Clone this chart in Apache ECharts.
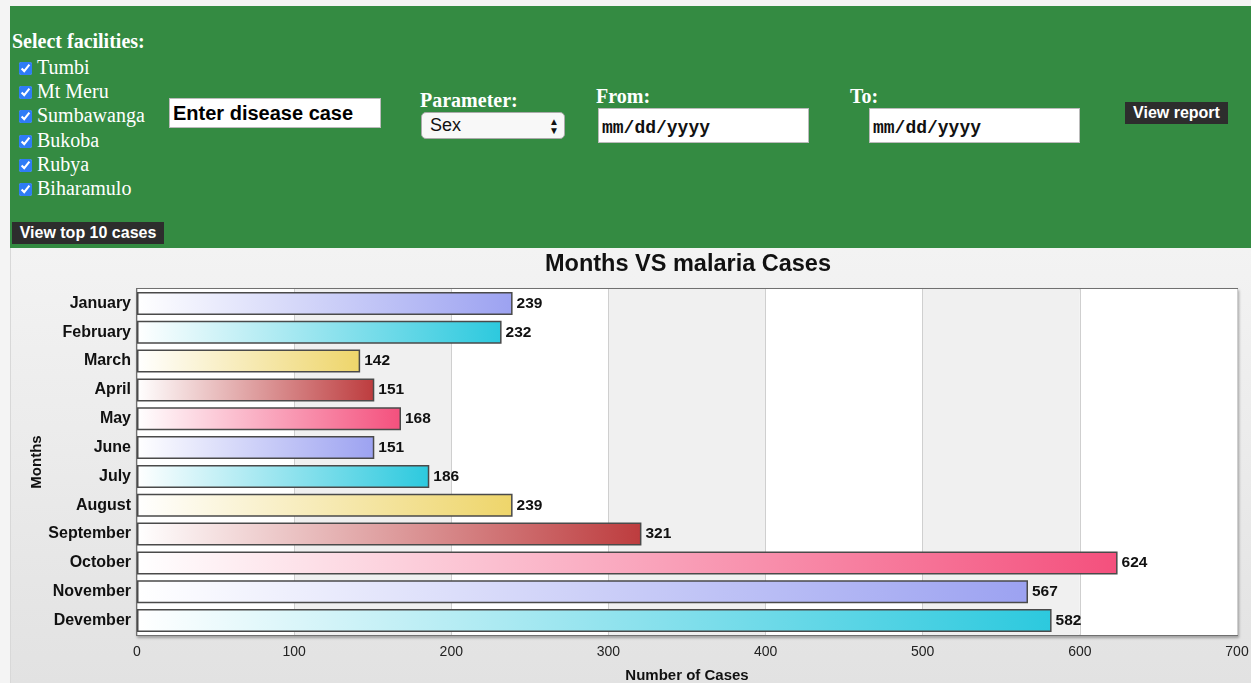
<!DOCTYPE html>
<html>
<head>
<meta charset="utf-8">
<script src="https://cdn.jsdelivr.net/npm/echarts@6/dist/echarts.min.js"></script>
<style>
  body { margin: 0; background: #f4f4f4; width: 1251px; height: 683px; overflow: hidden; position: relative; }
  .header { position: absolute; left: 10px; top: 6px; width: 1241px; height: 242px; background: #348b42; }
  .abs { position: absolute; }
  .lbl { font-family: "Liberation Serif", "Times New Roman", serif; font-weight: bold; font-size: 20px; color: #fff; white-space: nowrap; }
  .fac { font-family: "Liberation Serif", "Times New Roman", serif; font-size: 20px; color: #fff; height: 24.2px; line-height: 24px; white-space: nowrap; }
  .fac input { margin: 0 5px 0 0; width: 13px; height: 13px; vertical-align: -1px; accent-color: #2f7cf6; }
  .btn { background: #2d2d2d; color: #fff; font-family: "Liberation Sans", Arial, sans-serif; font-weight: bold; font-size: 16px; text-align: center; line-height: 22px; height: 22px; }
  .box { background: #fff; border: 1px solid #bbb; box-sizing: border-box; }
  .date { font-family: "Liberation Mono", "Courier New", monospace; font-weight: bold; font-size: 18px; color: #111; line-height: 38px; padding-left: 3px; }
  #chart { position: absolute; left: 10px; top: 248px; width: 1241px; height: 435px; background: linear-gradient(#f3f3f3, #e2e2e2); border-left: 1px solid #d8d8d8; box-sizing: border-box; }
</style>
</head>
<body>
<div class="header">
  <div class="abs lbl" style="left:2px; top:24px;">Select facilities:</div>
  <div class="abs" style="left:9px; top:49px;">
    <div class="fac"><input type="checkbox" checked>Tumbi</div>
    <div class="fac"><input type="checkbox" checked>Mt Meru</div>
    <div class="fac"><input type="checkbox" checked>Sumbawanga</div>
    <div class="fac"><input type="checkbox" checked>Bukoba</div>
    <div class="fac"><input type="checkbox" checked>Rubya</div>
    <div class="fac"><input type="checkbox" checked>Biharamulo</div>
  </div>
  <div class="abs box" style="left:159px; top:92px; width:212px; height:30px; font-family:'Liberation Sans',Arial,sans-serif; font-weight:bold; font-size:20px; color:#000; line-height:28px; padding-left:3px;">Enter disease case</div>
  <div class="abs lbl" style="left:410px; top:83px;">Parameter:</div>
  <div class="abs" style="left:411px; top:106px; width:144px; height:27px; background:#f8f8f8; border:1px solid #aaa; border-radius:5px; box-sizing:border-box; font-family:'Liberation Sans',Arial,sans-serif; font-size:18px; color:#111; line-height:25px; padding-left:8px;">Sex<span style="position:absolute; right:5px; top:0; font-size:10px; line-height:9px; padding-top:4px;">&#9650;<br>&#9660;</span></div>
  <div class="abs lbl" style="left:586px; top:79px;">From:</div>
  <div class="abs box date" style="left:588px; top:102px; width:211px; height:35px;">mm/dd/yyyy</div>
  <div class="abs lbl" style="left:840px; top:79px;">To:</div>
  <div class="abs box date" style="left:859px; top:102px; width:211px; height:35px;">mm/dd/yyyy</div>
  <div class="abs btn" style="left:1115px; top:96px; width:103px;">View report</div>
  <div class="abs btn" style="left:2px; top:216px; width:152px;">View top 10 cases</div>
</div>
<div id="chart"></div>
<script>
  // chart data
  const months = ["January", "February", "March", "April", "May", "June", "July", "August", "September", "October", "November", "Devember"];
  const cases = [239, 232, 142, 151, 168, 151, 186, 239, 321, 624, 567, 582];
  const barColors = ["#9ca2f1", "#2cc9de", "#eed56a", "#bd3c3e", "#f4507d"];

  const chart = echarts.init(document.getElementById("chart"));

  const barData = cases.map((v, i) => ({
    value: v,
    itemStyle: {
      color: new echarts.graphic.LinearGradient(0, 0, 1, 0, [
        { offset: 0, color: "#ffffff" },
        { offset: 1, color: barColors[i % barColors.length] },
      ]),
    },
  }));

  chart.setOption({
    backgroundColor: "transparent",
    animation: false,
    title: {
      text: "Months VS malaria Cases",
      left: 672,
      top: 0,
      textAlign: "center",
      textStyle: { fontFamily: "Liberation Sans, Arial, sans-serif", fontSize: 23.5, fontWeight: "bold", color: "#111" },
    },
    grid: {
      left: 126,
      right: 14,
      top: 41,
      bottom: 48,
      outerBoundsMode: "none",
      show: true,
      backgroundColor: "#fff",
      borderColor: "#707070",
      borderWidth: 2,
      shadowColor: "rgba(0,0,0,0.25)",
      shadowBlur: 3,
      shadowOffsetX: 1,
      shadowOffsetY: 2,
    },
    xAxis: {
      type: "value",
      min: 0,
      max: 700,
      interval: 100,
      axisLine: { show: false },
      axisTick: { show: false },
      axisLabel: { fontFamily: "Liberation Sans, Arial, sans-serif", fontSize: 14, color: "#222", margin: 10 },
      splitLine: { show: true, lineStyle: { color: "#cfcfcf", width: 1 } },
      splitArea: { show: true, areaStyle: { color: ["#ffffff", "#f0f0f0"] } },
      name: "Number of Cases",
      nameLocation: "middle",
      nameGap: 33,
      nameMoveOverlap: false,
      nameTextStyle: { fontFamily: "Liberation Sans, Arial, sans-serif", fontSize: 15, fontWeight: "bold", color: "#111" },
    },
    yAxis: {
      type: "category",
      data: months,
      inverse: true,
      axisLine: { show: false },
      axisTick: { show: false },
      axisLabel: { fontFamily: "Liberation Sans, Arial, sans-serif", fontSize: 16, fontWeight: "bold", color: "#111", margin: 6 },
      name: "Months",
      nameLocation: "middle",
      nameRotate: 90,
      nameGap: 93,
      nameMoveOverlap: false,
      nameTextStyle: { fontFamily: "Liberation Sans, Arial, sans-serif", fontSize: 15, fontWeight: "bold", color: "#111" },
    },
    series: [
      {
        type: "bar",
        data: barData,
        barCategoryGap: "20%",
        itemStyle: { borderColor: "#4a4a4a", borderWidth: 1.5 },
        label: {
          show: true,
          position: "right",
          distance: 4,
          fontFamily: "Liberation Sans, Arial, sans-serif",
          fontSize: 15.5,
          fontWeight: "bold",
          color: "#111",
        },
      },
    ],
  });
</script>
</body>
</html>
